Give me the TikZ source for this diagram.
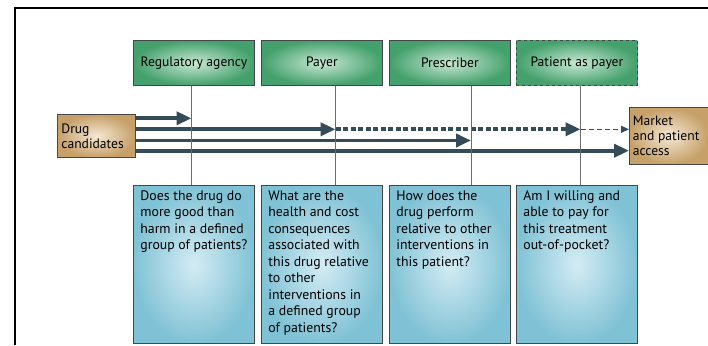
\documentclass[tikz,border=0pt]{standalone}
\usepackage{fontspec}
\setmainfont{PT Sans}
\usetikzlibrary{arrows.meta}
\definecolor{arr}{RGB}{52,76,88}
\definecolor{gout}{RGB}{68,160,108}
\definecolor{gin}{RGB}{200,232,212}
\definecolor{bout}{RGB}{128,194,213}
\definecolor{bin}{RGB}{212,236,244}
\definecolor{tout}{RGB}{198,160,104}
\definecolor{tin}{RGB}{244,232,212}
\definecolor{edge}{RGB}{70,70,70}
\begin{document}
\begin{tikzpicture}[x=1pt,y=-1pt,
  rolebox/.style={draw=edge, line width=0.8pt, inner color=gin, outer color=gout,
    minimum width=121pt, minimum height=45pt, inner sep=0pt, anchor=north west,
    font=\fontsize{13.6}{15}\selectfont},
  qbox/.style={draw=edge, line width=0.8pt, inner color=bin, outer color=bout,
    inner xsep=7pt, inner ysep=5pt, anchor=north west,
    font=\fontsize{13.8}{16.5}\selectfont},
  endbox/.style={draw=edge, line width=0.8pt, inner color=tin, outer color=tout,
    inner sep=0pt, anchor=north west, font=\fontsize{13.6}{15}\selectfont},
  bigarrow/.style={draw=arr, line width=3.8pt, -{Triangle[length=15pt,width=13pt]}},
  vline/.style={draw=edge!80, line width=0.7pt},
]
\useasboundingbox (0,0) rectangle (708,345);
\fill[white] (0,0) rectangle (708,345);
\draw[line width=2pt] (15,345) -- (15,8) -- (708,8);

% role boxes
\node[rolebox] (r1) at (133,40) {Regulatory agency};
\node[rolebox] (r2) at (261,40) {Payer};
\node[rolebox] (r3) at (389,40) {Prescriber};
\node[rolebox, dashed] (r4) at (516,40) {Patient as payer};

% question boxes
\node[qbox] (q1) at (133,185) {\parbox[t][148pt][t]{107pt}{\raggedright Does the drug do\\ more good than\\ harm in a defined\\ group of patients?}};
\node[qbox] (q2) at (261,185) {\parbox[t][148pt][t]{107pt}{\raggedright What are the\\ health and cost\\ consequences\\ associated with\\ this drug relative\\ to other\\ interventions in\\ a defined group\\ of patients?}};
\node[qbox] (q3) at (389,185) {\parbox[t][148pt][t]{107pt}{\raggedright How does the\\ drug perform\\ relative to other\\ interventions in\\ this patient?}};
\node[qbox] (q4) at (516,185) {\parbox[t][148pt][t]{107pt}{\raggedright Am I willing and\\ able to pay for\\ this treatment\\ out-of-pocket?}};

% end boxes
\node[endbox, minimum width=78pt, minimum height=43pt] (drug) at (57,114) {\parbox{70pt}{\raggedright Drug\\ candidates}};
\node[endbox, minimum width=79pt, minimum height=57pt] (mkt) at (629,107) {\parbox{72pt}{\raggedright Market\\ and patient\\ access}};

% arrow coordinates
\coordinate (t1) at (191.5,118.3);
\coordinate (t2) at (335.5,129.3);
\coordinate (t2b) at (580.5,129.3);
\coordinate (t3) at (471,140.5);
\coordinate (t4) at (628,150.7);

\draw[bigarrow] (drug.east |- t1) -- (t1);
\draw[bigarrow] (drug.east |- t2) -- (t2);
\draw[bigarrow, dash pattern=on 5pt off 2.5pt] (t2) -- (t2b);
\draw[arr, line width=1.3pt, dash pattern=on 5pt off 3pt, -{Triangle[length=8pt,width=7pt]}] (t2b) -- (mkt.west |- t2b);
\draw[bigarrow] (drug.east |- t3) -- (t3);
\draw[bigarrow] (drug.east |- t4) -- (mkt.west |- t4);

% vertical connectors
\draw[vline] (r1.south -| t1) -- (q1.north -| t1);
\draw[vline] (r2.south -| t2) -- (q2.north -| t2);
\draw[vline] (r3.south -| t3) -- (q3.north -| t3);
\draw[vline] (r4.south -| t2b) -- (q4.north -| t2b);
\end{tikzpicture}
\end{document}
